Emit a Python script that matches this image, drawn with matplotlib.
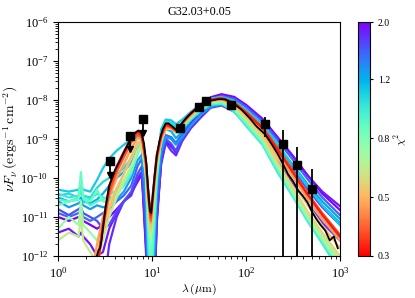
import numpy as np
import matplotlib
matplotlib.use("Agg")
import matplotlib.pyplot as plt
from matplotlib.colors import LogNorm
from matplotlib.cm import ScalarMappable

plt.rcParams["font.family"] = "serif"
plt.rcParams["font.serif"] = ["Liberation Serif", "DejaVu Serif"]
plt.rcParams["mathtext.fontset"] = "dejavuserif"

# --- photometry (micron, erg s^-1 cm^-2) ---
phot_wave = [3.6, 5.8, 8.0, 19.7, 31.5, 37.1, 70.0, 160.0, 250.0, 350.0, 500.0]
phot_flux = [2.7e-10, 1.23e-9, 3.2e-9, 1.9e-9, 6.6e-9, 9.3e-9, 7.4e-9, 2.4e-9, 7.4e-10, 2.1e-10, 5.2e-11]
phot_err = [0.0, 0.0, 0.0, 0.4e-9, 0.0, 0.0, 0.0, 1.3e-9, 1.0e-9, 4.2e-10, 1.2e-10]
phot_upper = [True, True, True, False, False, False, False, False, False, False, False]

# --- model SED grid (log10 nuFnu) ---
grid_wave = [1.0, 1.3, 1.65, 1.75, 1.85, 2.2, 2.6, 3.0, 3.5, 4.2, 5.0, 6.0,
             7.0, 7.8, 8.6, 9.2, 9.7, 10.3, 11.2, 12.5, 14.0, 16.0, 18.0, 21.0,
             26.0, 33.0, 42.0, 55.0, 75.0, 100.0, 150.0, 220.0, 320.0, 450.0, 650.0, 1000.0]

model_chi2 = [2.0, 1.9, 1.8, 1.65, 1.55, 1.35, 1.25, 1.15, 1.08, 1.0,
              0.92, 0.85, 0.7, 0.62, 0.55, 0.5, 0.45, 0.38, 0.35, 0.32]
model_logflux = [
    # 2.0
    [-11.0, -11.1, -11.0, -11.05, -11.1, -11.2, -11.3, -11.2, -11.0, -10.8, -10.6, -10.4,
     -10.1, -9.9, -11.8, -14.0, -14.0, -14.0, -11.2, -9.6, -9.05, -9.2, -9.3, -8.95,
     -8.55, -8.2, -7.93, -7.85, -7.92, -8.12, -8.48, -8.97, -9.45, -9.92, -10.4, -10.82],
    # 1.9
    [-11.4, -11.3, -11.5, -11.4, -11.5, -11.7, -12.0, -11.9, -11.3, -10.9, -10.6, -10.4,
     -10.0, -9.85, -11.7, -14.0, -14.0, -14.0, -11.1, -9.55, -9.0, -9.18, -9.35, -8.98,
     -8.6, -8.25, -7.99, -7.9, -7.96, -8.15, -8.5, -8.98, -9.46, -9.93, -10.35, -10.72],
    # 1.8
    [-14.0, -14.0, -14.0, -14.0, -14.0, -14.0, -14.0, -13.0, -11.7, -11.0, -10.6, -10.45,
     -10.0, -9.85, -11.5, -14.0, -14.0, -14.0, -11.0, -9.65, -9.1, -9.3, -9.42, -9.05,
     -8.72, -8.45, -8.2, -8.14, -8.3, -8.6, -9.05, -9.6, -10.15, -10.65, -11.15, -11.6],
    # 1.65
    [-10.8, -10.95, -10.8, -10.75, -10.9, -11.0, -11.1, -11.3, -11.2, -10.85, -10.6, -10.35,
     -9.9, -9.7, -11.2, -14.0, -14.0, -13.5, -10.8, -9.5, -9.0, -9.12, -9.3, -9.0,
     -8.62, -8.35, -8.12, -8.05, -8.15, -8.4, -8.78, -9.3, -9.8, -10.28, -10.75, -11.2],
    # 1.55
    [-10.9, -11.0, -10.9, -10.85, -11.0, -11.1, -11.0, -10.9, -10.8, -10.6, -10.45, -10.2,
     -9.7, -9.5, -10.8, -13.0, -14.0, -13.0, -10.6, -9.4, -8.9, -8.95, -9.1, -8.85,
     -8.5, -8.2, -7.98, -7.9, -7.97, -8.18, -8.55, -9.05, -9.55, -10.02, -10.5, -10.95],
    # 1.35
    [-10.6, -10.75, -10.65, -10.6, -10.7, -10.8, -10.7, -10.75, -10.7, -10.55, -10.35, -10.0,
     -9.55, -9.4, -10.4, -12.5, -13.5, -12.5, -10.3, -9.3, -8.95, -9.0, -9.15, -8.95,
     -8.65, -8.38, -8.18, -8.12, -8.2, -8.4, -8.72, -9.2, -9.68, -10.15, -10.6, -11.05],
    # 1.25
    [-10.5, -10.6, -10.55, -10.5, -10.6, -10.65, -10.55, -10.4, -10.2, -10.0, -9.85, -9.6,
     -9.25, -9.2, -10.2, -12.5, -13.5, -12.2, -10.2, -9.1, -8.75, -8.8, -8.98, -8.8,
     -8.5, -8.25, -8.06, -8.0, -8.08, -8.3, -8.66, -9.18, -9.72, -10.22, -10.7, -11.15],
    # 1.15
    [-10.3, -10.35, -10.3, -10.2, -10.3, -10.35, -10.05, -9.75, -9.5, -9.3, -9.15, -9.0,
     -8.95, -8.95, -9.8, -11.6, -13.0, -11.5, -9.8, -8.75, -8.5, -8.52, -8.62, -8.5,
     -8.3, -8.1, -7.96, -7.92, -8.02, -8.25, -8.62, -9.15, -9.7, -10.2, -10.7, -11.2],
    # 1.08
    [-10.45, -10.4, -10.5, -10.3, -10.45, -10.5, -10.25, -10.1, -10.0, -9.9, -9.75, -9.5,
     -9.1, -9.05, -9.9, -12.0, -13.0, -11.8, -10.0, -8.85, -8.55, -8.58, -8.7, -8.58,
     -8.38, -8.18, -8.04, -8.0, -8.12, -8.4, -8.8, -9.4, -9.98, -10.52, -11.05, -11.55],
    # 1.0
    [-10.4, -10.5, -10.45, -10.35, -10.5, -10.55, -10.4, -10.5, -10.55, -10.4, -10.2, -9.9,
     -9.3, -9.0, -9.9, -11.8, -13.0, -11.8, -10.1, -8.95, -8.6, -8.65, -8.85, -8.72,
     -8.5, -8.28, -8.12, -8.1, -8.3, -8.66, -9.15, -9.88, -10.5, -11.1, -11.68, -12.4],
    # 0.92
    [-10.55, -10.6, -10.5, -10.1, -10.55, -10.7, -10.6, -10.55, -10.45, -10.3, -10.1, -9.8,
     -9.35, -9.1, -9.9, -11.6, -12.8, -11.5, -10.0, -8.95, -8.62, -8.65, -8.82, -8.7,
     -8.48, -8.26, -8.1, -8.08, -8.24, -8.58, -9.06, -9.76, -10.42, -11.0, -11.55, -12.15],
    # 0.85
    [-10.7, -10.6, -10.55, -9.85, -10.5, -10.6, -10.3, -10.6, -10.6, -10.45, -10.15, -9.85,
     -9.4, -9.15, -9.9, -11.3, -12.2, -11.2, -9.9, -9.0, -8.65, -8.68, -8.85, -8.7,
     -8.45, -8.22, -8.08, -8.06, -8.25, -8.6, -9.1, -9.8, -10.45, -11.05, -11.62, -12.3],
    # 0.7
    [-11.3, -11.0, -11.2, -10.6, -11.2, -11.4, -11.6, -11.2, -10.8, -10.4, -10.05, -9.7,
     -9.3, -9.2, -9.9, -11.0, -11.6, -10.8, -9.75, -9.05, -8.72, -8.72, -8.82, -8.65,
     -8.42, -8.2, -8.06, -8.03, -8.2, -8.52, -9.02, -9.72, -10.38, -10.98, -11.55, -12.2],
    # 0.62
    [-11.6, -11.4, -11.5, -11.0, -11.6, -11.9, -12.2, -11.6, -11.0, -10.5, -10.1, -9.7,
     -9.3, -9.15, -9.85, -10.9, -11.5, -10.75, -9.7, -9.05, -8.74, -8.73, -8.8, -8.64,
     -8.41, -8.19, -8.05, -8.02, -8.18, -8.5, -8.98, -9.68, -10.32, -10.92, -11.48, -12.1],
    # 0.55
    [-14.0, -14.0, -14.0, -14.0, -14.0, -12.8, -12.0, -11.2, -10.7, -10.25, -9.9, -9.5,
     -9.15, -9.1, -9.75, -10.8, -11.35, -10.6, -9.65, -9.05, -8.75, -8.74, -8.8, -8.63,
     -8.4, -8.18, -8.04, -8.0, -8.15, -8.45, -8.92, -9.62, -10.25, -10.85, -11.4, -12.0],
    # 0.5
    [-14.0, -14.0, -14.0, -14.0, -14.0, -13.0, -12.2, -11.4, -10.8, -10.3, -9.9, -9.45,
     -9.1, -9.05, -9.7, -10.7, -11.25, -10.5, -9.6, -9.02, -8.72, -8.73, -8.8, -8.62,
     -8.39, -8.17, -8.03, -7.99, -8.12, -8.4, -8.85, -9.5, -10.1, -10.68, -11.22, -11.8],
    # 0.45
    [-14.0, -14.0, -14.0, -14.0, -14.0, -12.6, -11.7, -11.0, -10.5, -10.0, -9.65, -9.25,
     -8.98, -9.0, -9.65, -10.6, -11.15, -10.45, -9.55, -8.98, -8.7, -8.72, -8.8, -8.62,
     -8.38, -8.16, -8.02, -7.98, -8.1, -8.35, -8.78, -9.4, -9.98, -10.52, -11.05, -11.6],
    # 0.38
    [-14.0, -14.0, -14.0, -14.0, -14.0, -13.8, -12.2, -11.3, -10.4, -9.85, -9.48, -9.1,
     -8.88, -8.95, -9.6, -10.55, -11.1, -10.4, -9.5, -8.95, -8.66, -8.7, -8.8, -8.6,
     -8.35, -8.13, -7.99, -7.95, -8.06, -8.3, -8.7, -9.25, -9.85, -10.38, -10.9, -11.45],
    # 0.35
    [-14.0, -14.0, -14.0, -14.0, -14.0, -13.6, -12.3, -11.25, -10.3, -9.78, -9.4, -9.03,
     -8.84, -8.92, -9.57, -10.5, -11.02, -10.35, -9.46, -8.92, -8.64, -8.69, -8.79, -8.59,
     -8.34, -8.13, -7.99, -7.95, -8.07, -8.31, -8.71, -9.27, -9.86, -10.4, -10.92, -11.47],
    # 0.32
    [-14.0, -14.0, -14.0, -14.0, -14.0, -13.5, -12.4, -11.2, -10.2, -9.7, -9.33, -8.97,
     -8.8, -8.9, -9.55, -10.45, -10.95, -10.3, -9.42, -8.9, -8.62, -8.68, -8.78, -8.58,
     -8.33, -8.13, -8.0, -7.96, -8.08, -8.33, -8.72, -9.3, -9.88, -10.42, -10.95, -11.5],
]

# --- best fit model ---
best_wave = [2.55, 2.7, 2.8, 2.9, 3.0, 3.2, 3.5, 4.0, 4.5, 5.0, 5.5, 6.0, 6.6, 7.2, 7.7,
             8.2, 8.7, 9.1, 9.5, 9.8, 10.2, 10.7, 11.3, 12.0, 13.0, 14.0, 15.0, 16.5,
             18.0, 19.5, 21.0, 24.0, 28.0, 33.0, 40.0, 50.0, 60.0, 75.0, 90.0, 110.0,
             130.0, 160.0, 190.0, 220.0, 250.0, 280.0, 320.0, 360.0, 400.0, 450.0,
             500.0, 560.0, 620.0, 700.0, 780.0, 860.0, 950.0]
best_logflux = [-12.05, -11.85, -11.8, -11.6, -11.3, -10.75, -10.2, -9.82, -9.58, -9.35,
                -9.15, -8.97, -8.84, -8.78, -8.84, -9.1, -9.62, -10.3, -10.85, -10.9,
                -10.45, -9.9, -9.4, -9.05, -8.75, -8.6, -8.6, -8.68, -8.76, -8.72, -8.58,
                -8.42, -8.27, -8.14, -8.03, -7.98, -7.98, -8.1, -8.25, -8.47, -8.68,
                -8.88, -9.15, -9.4, -9.66, -9.9, -10.1, -10.32, -10.45, -10.62, -10.85,
                -11.05, -11.2, -11.35, -11.6, -11.5, -11.8]

y_ticks = [1e-12, 1e-11, 1e-10, 1e-9, 1e-8, 1e-7, 1e-6]
x_ticks = [1, 10, 100, 1000]
cbar_ticks = [0.3, 0.484, 0.781, 1.26, 2.0]
cbar_labels = ["0.3", "0.5", "0.8", "1.2", "2.0"]

fig = plt.figure(figsize=(4.15, 2.98), dpi=100)
ax = fig.add_axes([0.140, 0.141, 0.679, 0.785])
cax = fig.add_axes([0.863, 0.141, 0.029, 0.785])

cmap = plt.get_cmap("rainbow_r")
norm = LogNorm(vmin=0.3, vmax=2.0)

# worst fits first so the best ones end up on top
order = np.argsort(model_chi2)[::-1]
for i in order:
    ax.plot(grid_wave, 10 ** np.array(model_logflux[i]), color=cmap(norm(model_chi2[i])),
            lw=1.6, solid_joinstyle="round")

ax.plot(best_wave, 10 ** np.array(best_logflux), color="black", lw=1.3)

phot_wave = np.array(phot_wave)
phot_flux = np.array(phot_flux)
phot_err = np.array(phot_err)
phot_upper = np.array(phot_upper)

det = ~phot_upper
lower = np.where(phot_err[det] >= phot_flux[det], phot_flux[det] - 1e-14, phot_err[det])
ax.errorbar(phot_wave[det], phot_flux[det], yerr=[lower, phot_err[det]], fmt="s",
            color="black", ms=5.5, elinewidth=1.3, capsize=0, zorder=5)

ul = phot_upper
tip = phot_flux[ul] * 0.44
ax.vlines(phot_wave[ul], tip, phot_flux[ul], color="black", lw=1.3, zorder=5)
ax.plot(phot_wave[ul], tip, "v", color="black", ms=4, zorder=5)
ax.plot(phot_wave[ul], phot_flux[ul], "s", color="black", ms=5.5, zorder=6)

ax.set_xscale("log")
ax.set_yscale("log")
ax.set_xticks(x_ticks)
ax.set_yticks(y_ticks)
ax.set_xlim(1, 1000)
ax.set_ylim(1e-12, 1e-6)
ax.tick_params(labelsize=9)
ax.set_xlabel(r"$\lambda\,(\mu{\rm m})$", fontsize=8.5, math_fontfamily="cm", labelpad=1)
ax.set_ylabel(r"$\nu F_\nu\,({\rm ergs^{-1}\,cm^{-2}})$", fontsize=10,
              math_fontfamily="cm", labelpad=0)
ax.set_title("G32.03+0.05", fontsize=8.7, pad=5)

sm = ScalarMappable(norm=norm, cmap=cmap)
cbar = fig.colorbar(sm, cax=cax)
cbar.minorticks_off()
cbar.set_ticks(cbar_ticks)
cbar.set_ticklabels(cbar_labels)
cbar.ax.tick_params(labelsize=7, length=2)
cbar.set_label(r"$\chi^2$", fontsize=8, math_fontfamily="cm", labelpad=2)

fig.savefig("out.png", dpi=100)
